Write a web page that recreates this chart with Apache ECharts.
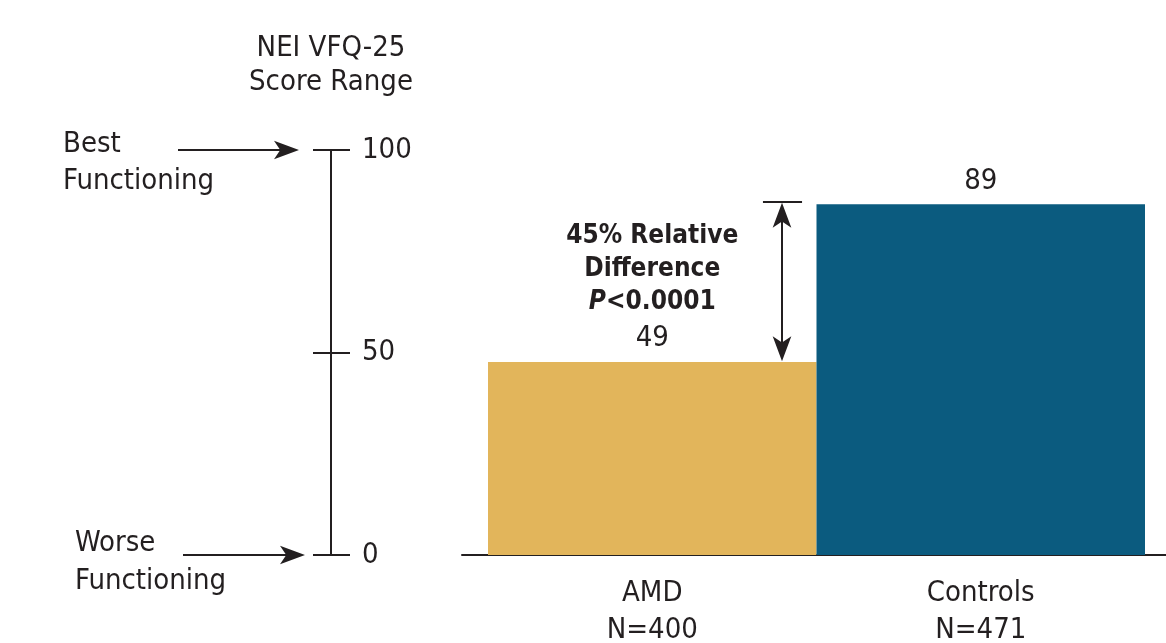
<!DOCTYPE html>
<html>
<head>
<meta charset="utf-8">
<script src="https://cdn.jsdelivr.net/npm/echarts@6/dist/echarts.min.js"></script>
<style>
  html, body { margin: 0; padding: 0; background: #fff; }
  #chart { width: 1166px; height: 643px; }
</style>
</head>
<body>
<div id="chart"></div>
<script>
// data
var categories = ['AMD', 'Controls'];
var sampleSizes = [400, 471];
var scores = [49, 89];
var barColors = ['#E2B55B', '#0B5B7F'];
var rangeTicks = [0, 50, 100];
var rangeEnds = ['Worse\nFunctioning', 'Best\nFunctioning'];
var diffNote = ['45% Relative', 'Difference', '<0.0001'];

var FONT = '"Liberation Sans Narrow", "DejaVu Sans Condensed", "Roboto Condensed", sans-serif';
var INK = '#231F20';

var chart = echarts.init(document.getElementById('chart'));

// horizontal pointer arrows on the score range panel: [x start, x tip, y]
var rangeArrows = [[118, 239, rangeTicks[2]], [123, 245, rangeTicks[0]]];
var bracketX = 0.895;

var option = {
    animation: false,
    backgroundColor: '#fff',
    title: [
        {
            text: 'NEI VFQ-25\nScore Range',
            left: 326, top: 26, textAlign: 'center',
            textStyle: {fontFamily: FONT, fontSize: 29, fontWeight: 'normal', color: INK, lineHeight: 34}
        },
        {
            text: rangeEnds[1],
            left: 58, top: 121,
            textStyle: {fontFamily: FONT, fontSize: 29, fontWeight: 'normal', color: INK, lineHeight: 37}
        },
        {
            text: rangeEnds[0],
            left: 70, top: 519,
            textStyle: {fontFamily: FONT, fontSize: 29, fontWeight: 'normal', color: INK, lineHeight: 38}
        }
    ],
    grid: [
        {left: 60, right: 835, top: 150, bottom: 88, outerBoundsMode: 'none'},
        {left: 488, right: 21, top: 161, bottom: 88, outerBoundsMode: 'none'},
        {left: 462, right: 0, top: 500, bottom: 88, outerBoundsMode: 'none'}
    ],
    xAxis: [
        {gridIndex: 0, type: 'value', min: 0, max: 271, show: false},
        {
            gridIndex: 1, type: 'category', data: categories,
            axisLine: {show: false}, axisTick: {show: false},
            axisLabel: {
                margin: 20, fontFamily: FONT, fontSize: 29, color: INK, lineHeight: 37,
                formatter: function (v, i) { return v + '\nN=' + sampleSizes[i]; }
            }
        },
        {gridIndex: 1, type: 'value', min: 0, max: 2, show: false},
        {
            gridIndex: 2, type: 'value', min: 0, max: 1,
            axisLine: {show: true, onZero: false, lineStyle: {color: INK, width: 2}},
            axisTick: {show: false}, axisLabel: {show: false}, splitLine: {show: false}
        }
    ],
    yAxis: [
        {
            gridIndex: 0, type: 'value', position: 'right', min: 0, max: 100, interval: 50,
            axisLine: {show: true, onZero: false, lineStyle: {color: INK, width: 2}},
            axisTick: {show: true, length: 19, lineStyle: {color: INK, width: 2}},
            axisLabel: {margin: 31, fontFamily: FONT, fontSize: 29, color: INK},
            splitLine: {show: false}
        },
        {gridIndex: 1, type: 'value', min: 0, max: 100, show: false},
        {gridIndex: 2, type: 'value', min: 0, max: 1, show: false}
    ],
    series: [
        {
            // shafts of the arrows pointing at the ends of the score range
            type: 'lines', coordinateSystem: 'cartesian2d', xAxisIndex: 0, yAxisIndex: 0,
            symbol: ['none', 'none'],
            lineStyle: {color: INK, width: 2, opacity: 1},
            data: rangeArrows.map(function (a) {
                return {coords: [[a[0], a[2]], [a[1] - 6, a[2]]]};
            })
        },
        {
            // arrow heads (tip sits on the data point)
            type: 'scatter', xAxisIndex: 0, yAxisIndex: 0,
            symbol: 'arrow', symbolSize: [14, 25], symbolRotate: -90,
            itemStyle: {color: INK, opacity: 1},
            clip: false, silent: true,
            data: rangeArrows.map(function (a) { return [a[1], a[2]]; })
        },
        {
            // left half of each cross tick on the score range axis
            type: 'lines', coordinateSystem: 'cartesian2d', xAxisIndex: 0, yAxisIndex: 0,
            symbol: ['none', 'none'], clip: false,
            lineStyle: {color: INK, width: 2, opacity: 1},
            data: rangeTicks.map(function (t) {
                return {coords: [[253, t], [271, t]]};
            })
        },
        {
            type: 'bar', xAxisIndex: 1, yAxisIndex: 1,
            barWidth: '100%', barCategoryGap: 0,
            data: scores.map(function (v, i) {
                return {value: v, itemStyle: {color: barColors[i]}};
            }),
            label: {
                show: true, position: 'top', distance: 3,
                fontFamily: FONT, fontSize: 29, color: INK,
                formatter: function (p) {
                    if (p.dataIndex === 0) {
                        return '{b|' + diffNote[0] + '}\n{d|' + diffNote[1] + '}\n{i|P}{b|' + diffNote[2] + '}\n{v|' + p.value + '}';
                    }
                    return '{v|' + p.value + '}';
                },
                rich: {
                    b: {fontFamily: FONT, fontSize: 26, fontWeight: 'bold', color: INK, lineHeight: 34},
                    d: {fontFamily: FONT, fontSize: 26, fontWeight: 'bold', color: INK, lineHeight: 32},
                    i: {fontFamily: FONT, fontSize: 26, fontWeight: 'bold', fontStyle: 'italic', color: INK, lineHeight: 34},
                    v: {fontFamily: FONT, fontSize: 29, color: INK, lineHeight: 40}
                }
            }
        },
        {
            // double-headed arrow between the two bar tops: shaft
            type: 'lines', coordinateSystem: 'cartesian2d', xAxisIndex: 2, yAxisIndex: 1,
            symbol: ['none', 'none'],
            lineStyle: {color: INK, width: 2, opacity: 1},
            data: [{coords: [[bracketX, scores[0] + 1.5], [bracketX, scores[1] - 1.5]]}]
        },
        {
            type: 'scatter', xAxisIndex: 2, yAxisIndex: 1,
            symbol: 'arrow', symbolSize: [14, 25],
            itemStyle: {color: INK, opacity: 1},
            clip: false, silent: true,
            data: [
                {value: [bracketX, scores[1] + 0.4], symbolRotate: 0},
                {value: [bracketX, scores[0] + 0.2], symbolRotate: 180}
            ]
        },
        {
            // cap at the top of the bracket
            type: 'lines', coordinateSystem: 'cartesian2d', xAxisIndex: 2, yAxisIndex: 1,
            symbol: ['none', 'none'],
            lineStyle: {color: INK, width: 2, opacity: 1},
            data: [{coords: [[0.837, scores[1] + 0.6], [0.956, scores[1] + 0.6]]}]
        }
    ]
};

chart.setOption(option);
</script>
</body>
</html>
